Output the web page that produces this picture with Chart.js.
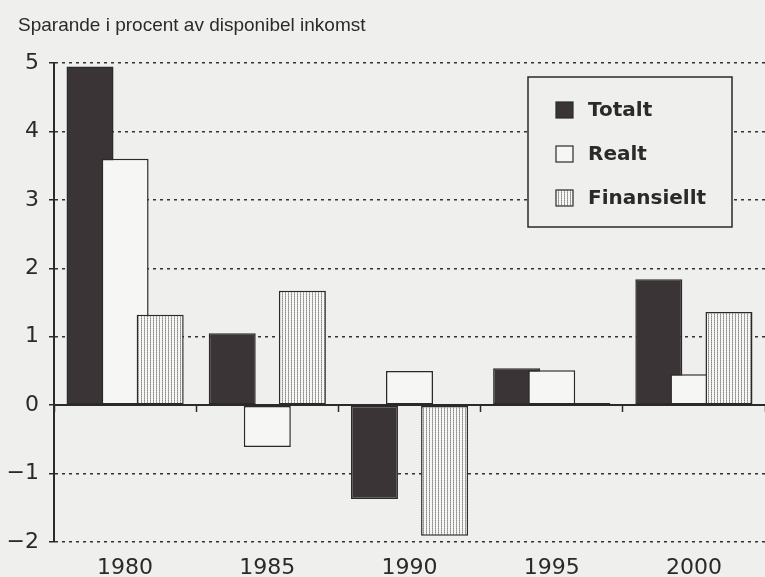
<!DOCTYPE html>
<html>
<head>
<meta charset="utf-8">
<script src="https://cdn.jsdelivr.net/npm/chart.js@4"></script>
<style>
  html, body { margin: 0; padding: 0; background: #efefed; }
  #wrap { width: 765px; height: 577px; }
</style>
</head>
<body>
<div id="wrap"><canvas id="savingChart" width="765" height="577"></canvas></div>
<script>
// data
const years = ['1980', '1985', '1990', '1995', '2000'];
const totalt = [4.95, 1.05, -1.37, 0.54, 1.84];
const realt = [3.6, -0.61, 0.5, 0.51, 0.45];
const finansiellt = [1.32, 1.67, -1.91, 0.03, 1.36];
const seriesNames = ['Totalt', 'Realt', 'Finansiellt'];
const chartTitle = 'Sparande i procent av disponibel inkomst';
const yMin = -2, yMax = 5;

const ink = '#2a2a2a';
const paper = '#efefed';

// fine vertical stripes for "Finansiellt"
function stripes() {
    var c = document.createElement('canvas');
    c.width = 3; c.height = 2;
    var g = c.getContext('2d');
    g.fillStyle = '#f6f6f4';
    g.fillRect(0, 0, 3, 2);
    g.fillStyle = '#8a8a8a';
    g.fillRect(0, 0, 1, 1);
    g.fillStyle = '#b0b0b0';
    g.fillRect(0, 1, 1, 1);
    return g.createPattern(c, 'repeat');
}

const fills = ['#3a3436', '#f6f6f4', stripes()];

// paint the page colour behind everything, plus the title line
const background = {
    id: 'background',
    beforeDraw(chart) {
        const ctx = chart.ctx;
        ctx.save();
        ctx.fillStyle = paper;
        ctx.fillRect(0, 0, chart.width, chart.height);
        ctx.fillStyle = ink;
        ctx.font = '19px "Liberation Sans"';
        ctx.textBaseline = 'alphabetic';
        ctx.fillText(chartTitle, 18, 31);
        ctx.restore();
    }
};

// later series sit on top of earlier ones (bars overlap)
const drawForward = {
    id: 'drawForward',
    beforeDatasetsDraw(chart) {
        chart.getSortedVisibleDatasetMetas().forEach(m => m.controller.draw());
        return false;
    }
};

// boxed legend inside the plot, top right
const boxLegend = {
    id: 'boxLegend',
    afterDraw(chart) {
        const ctx = chart.ctx;
        ctx.save();
        ctx.fillStyle = paper;
        ctx.fillRect(528, 77, 204, 150);
        ctx.strokeStyle = ink;
        ctx.lineWidth = 1.5;
        ctx.strokeRect(528, 77, 204, 150);
        ctx.font = 'bold 20px "DejaVu Sans"';
        ctx.textBaseline = 'middle';
        chart.data.datasets.forEach((ds, i) => {
            const cy = 110 + i * 44;
            ctx.fillStyle = ds.backgroundColor;
            ctx.fillRect(556, cy - 8, 17, 16);
            ctx.lineWidth = 1.2;
            ctx.strokeRect(556, cy - 8, 17, 16);
            ctx.fillStyle = ink;
            ctx.fillText(ds.label, 588, cy + 1);
        });
        ctx.restore();
    }
};

const series = [totalt, realt, finansiellt];

const config = {
    type: 'bar',
    data: {
        labels: years,
        datasets: series.map((vals, i) => ({
            label: seriesNames[i],
            data: vals,
            backgroundColor: fills[i],
            borderColor: ink,
            borderWidth: 1.5,
            borderSkipped: false,
            categoryPercentage: 0.74,
            barPercentage: 1.34
        }))
    },
    options: {
        responsive: false,
        animation: false,
        layout: { padding: { left: 0, right: 0, top: 63, bottom: 0 } },
        plugins: {
            legend: { display: false },
            tooltip: { enabled: false },
            title: { display: false }
        },
        scales: {
            x: {
                type: 'category',
                offset: true,
                grid: { display: false },
                border: { display: false },
                ticks: {
                    color: ink,
                    padding: 5,
                    font: { family: '"DejaVu Sans"', size: 22 }
                },
                afterFit: scale => { scale.height = 35; }
            },
            x2: {
                type: 'category',
                axis: 'x',
                labels: years,
                position: { y: 0 },
                offset: true,
                grid: {
                    offset: true,
                    drawOnChartArea: false,
                    drawTicks: true,
                    tickLength: 6,
                    tickColor: ink,
                    tickWidth: 1.5
                },
                border: { display: true, color: ink, width: 2 },
                ticks: { display: false }
            },
            y: {
                min: yMin,
                max: yMax,
                ticks: {
                    stepSize: 1,
                    color: ink,
                    padding: 10,
                    font: { family: '"DejaVu Sans"', size: 22 },
                    callback: v => v < 0 ? '\u2212' + Math.abs(v) : String(v)
                },
                grid: {
                    color: ctx => (ctx.tick && ctx.tick.value === 0) ? 'rgba(0,0,0,0)' : '#333',
                    lineWidth: 1.5,
                    tickLength: 5,
                    tickColor: ink,
                    tickWidth: 1.5
                },
                border: { display: true, color: ink, width: 2, dash: [3, 4] },
                afterFit: scale => { scale.width = 54; }
            }
        }
    },
    plugins: [background, drawForward, boxLegend]
};

const savingChart = new Chart(document.getElementById('savingChart'), config);
</script>
</body>
</html>
